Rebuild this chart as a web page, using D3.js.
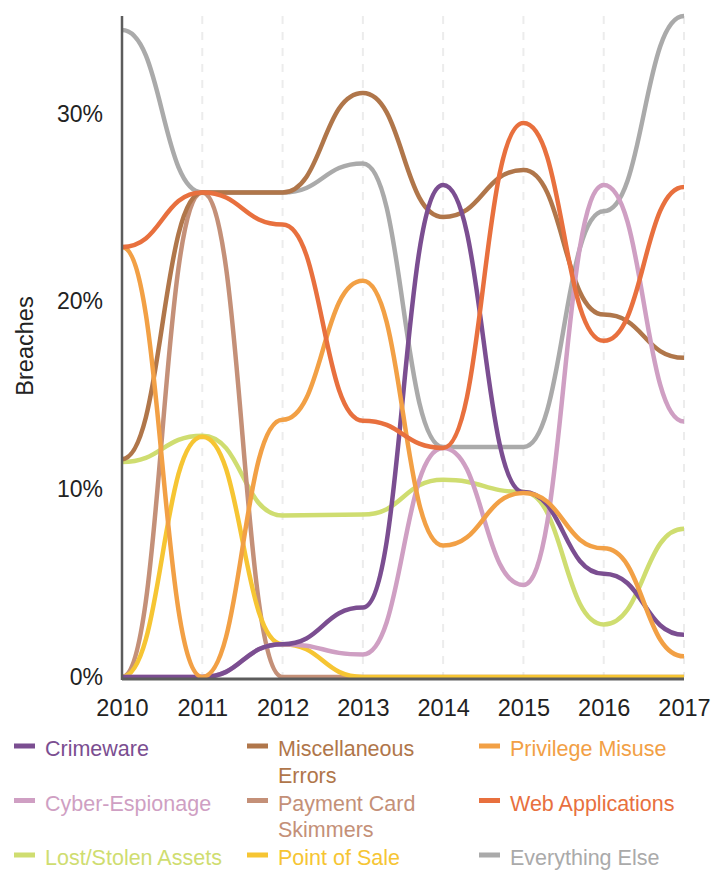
<!DOCTYPE html>
<html>
<head>
<meta charset="utf-8">
<script src="https://cdn.jsdelivr.net/npm/d3@7"></script>
<style>
  html, body { margin: 0; padding: 0; background: #fff; }
  svg { display: block; font-family: "Liberation Sans", Arial, sans-serif; }
</style>
</head>
<body>
<svg id="chart" width="726" height="886"></svg>
<script>
const years = [2010, 2011, 2012, 2013, 2014, 2015, 2016, 2017];
const yTicks = [0, 10, 20, 30];

const seriesNames = ["Crimeware", "Miscellaneous Errors", "Privilege Misuse",
  "Cyber-Espionage", "Payment Card Skimmers", "Web Applications",
  "Lost/Stolen Assets", "Point of Sale", "Everything Else"];

const crimeware        = [0, 0, 1.75, 3.7, 26.2, 9.85, 5.5, 2.25];
const miscErrors       = [11.6, 25.8, 25.8, 31.1, 24.5, 27.0, 19.3, 17.0];
const privilegeMisuse  = [22.9, 0, 13.7, 21.1, 7.0, 9.8, 6.85, 1.1];
const cyberEspionage   = [0, 0, 1.75, 1.2, 12.2, 4.9, 26.2, 13.6];
const paymentSkimmers  = [0, 25.8, 0, 0, 0, 0, 0, 0];
const webApplications  = [22.9, 25.8, 24.1, 13.65, 12.2, 29.5, 17.9, 26.1];
const lostStolen       = [11.45, 12.85, 8.6, 8.65, 10.5, 9.85, 2.8, 7.9];
const pointOfSale      = [0, 12.8, 1.75, 0, 0, 0, 0, 0];
const everythingElse   = [34.45, 25.8, 25.8, 27.35, 12.25, 12.25, 24.8, 35.2];

const colors = {
  "Crimeware": "#7b4e91",
  "Miscellaneous Errors": "#b0764a",
  "Privilege Misuse": "#f2a045",
  "Cyber-Espionage": "#cf9fc3",
  "Payment Card Skimmers": "#c49078",
  "Web Applications": "#e8703e",
  "Lost/Stolen Assets": "#cfdd70",
  "Point of Sale": "#f6c533",
  "Everything Else": "#aaaaaa"
};

const valuesByName = {
  "Crimeware": crimeware,
  "Miscellaneous Errors": miscErrors,
  "Privilege Misuse": privilegeMisuse,
  "Cyber-Espionage": cyberEspionage,
  "Payment Card Skimmers": paymentSkimmers,
  "Web Applications": webApplications,
  "Lost/Stolen Assets": lostStolen,
  "Point of Sale": pointOfSale,
  "Everything Else": everythingElse
};

const drawOrder = ["Everything Else", "Lost/Stolen Assets", "Payment Card Skimmers",
  "Point of Sale", "Miscellaneous Errors", "Cyber-Espionage", "Crimeware",
  "Privilege Misuse", "Web Applications"];

(function () {
const svg = d3.select("#chart");
const pLeft = 122, pRight = 684, pTop = 16, pBottom = 677;

const x = d3.scaleLinear().domain([2010, 2017]).range([pLeft, pRight]);
const y = d3.scaleLinear().domain([0, 35.2]).range([pBottom, pTop]);

// grid lines
svg.append("g").selectAll("line")
  .data(years.slice(1))
  .join("line")
  .attr("x1", d => x(d)).attr("x2", d => x(d))
  .attr("y1", pTop).attr("y2", pBottom)
  .attr("stroke", "#ececec").attr("stroke-width", 2)
  .attr("stroke-dasharray", "8,8");

const line = d3.line()
  .x((d, i) => x(years[i]))
  .y(d => y(d))
  .curve(d3.curveBumpX);

svg.append("g").selectAll("path")
  .data(drawOrder)
  .join("path")
  .attr("d", n => line(valuesByName[n]))
  .attr("fill", "none")
  .attr("stroke", n => colors[n])
  .attr("stroke-width", 4.5)
  .attr("stroke-linecap", "butt");

// axes lines
svg.append("line")
  .attr("x1", pLeft).attr("x2", pRight)
  .attr("y1", pBottom + 2).attr("y2", pBottom + 2)
  .attr("stroke", "#5c5c5c").attr("stroke-width", 3);
svg.append("line")
  .attr("x1", pLeft).attr("x2", pLeft)
  .attr("y1", pTop).attr("y2", pBottom + 3)
  .attr("stroke", "#5c5c5c").attr("stroke-width", 2.5);

// y axis labels
const yAxis = d3.axisLeft(y).tickValues(yTicks).tickSize(0).tickPadding(0)
  .tickFormat(d => d + "%");
const gy = svg.append("g").attr("transform", `translate(${103},0)`).call(yAxis);
gy.select(".domain").remove();
gy.selectAll("text").attr("font-size", 23).attr("fill", "#222")
  .attr("font-family", "Liberation Sans, Arial, sans-serif");

// x axis labels
const xAxis = d3.axisBottom(x).tickValues(years).tickSize(0).tickPadding(0)
  .tickFormat(d3.format("d"));
const gx = svg.append("g").attr("transform", `translate(0,${699})`).call(xAxis);
gx.select(".domain").remove();
gx.selectAll("text").attr("font-size", 23.5).attr("fill", "#222")
  .attr("font-family", "Liberation Sans, Arial, sans-serif");

// y title
svg.append("text")
  .attr("transform", `translate(33,346) rotate(-90)`)
  .attr("text-anchor", "middle")
  .attr("font-size", 23.5).attr("fill", "#222")
  .text("Breaches");

// legend
const legendItems = [
  { name: "Crimeware", lines: ["Crimeware"], col: 0, row: 0 },
  { name: "Miscellaneous Errors", lines: ["Miscellaneous", "Errors"], col: 1, row: 0 },
  { name: "Privilege Misuse", lines: ["Privilege Misuse"], col: 2, row: 0 },
  { name: "Cyber-Espionage", lines: ["Cyber-Espionage"], col: 0, row: 1 },
  { name: "Payment Card Skimmers", lines: ["Payment Card", "Skimmers"], col: 1, row: 1 },
  { name: "Web Applications", lines: ["Web Applications"], col: 2, row: 1 },
  { name: "Lost/Stolen Assets", lines: ["Lost/Stolen Assets"], col: 0, row: 2 },
  { name: "Point of Sale", lines: ["Point of Sale"], col: 1, row: 2 },
  { name: "Everything Else", lines: ["Everything Else"], col: 2, row: 2 }
];
const colX = [14, 247, 479];
const rowY = [746, 800.5, 855];
const lg = svg.append("g");
legendItems.forEach(it => {
  const gx0 = colX[it.col], gy0 = rowY[it.row];
  lg.append("rect").attr("x", gx0).attr("y", gy0 - 2.5)
    .attr("width", 21).attr("height", 5).attr("fill", colors[it.name]);
  const t = lg.append("text").attr("x", gx0 + 31).attr("y", gy0 + 10)
    .attr("font-size", 21.5).attr("fill", colors[it.name]);
  it.lines.forEach((l, i) => {
    t.append("tspan").attr("x", gx0 + 31).attr("dy", i === 0 ? 0 : 26.5).text(l);
  });
});
})();
</script>
</body>
</html>
